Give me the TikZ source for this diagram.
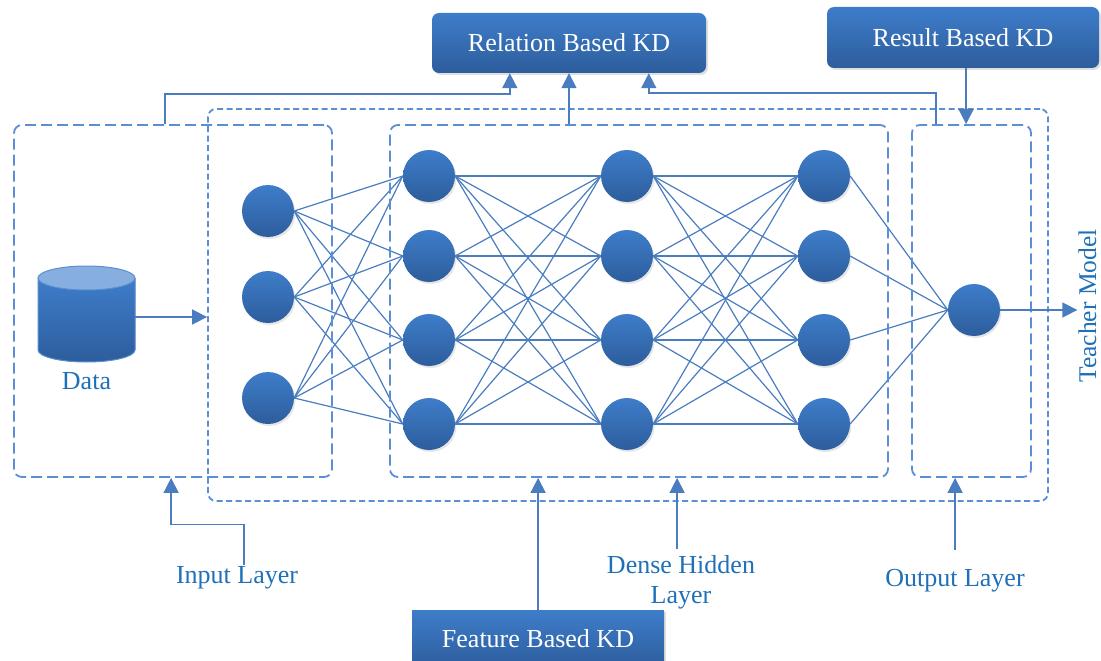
\documentclass[tikz,border=0pt]{standalone}
\usepackage{fontspec}
\setmainfont{Liberation Serif}
\usetikzlibrary{arrows.meta,shadows,backgrounds,calc}
\definecolor{nodetop}{HTML}{3E7DCA}
\definecolor{nodebot}{HTML}{2D5D9C}
\definecolor{dashc}{HTML}{5A8ED6}
\definecolor{linec}{HTML}{4A7DC0}
\definecolor{txtc}{HTML}{1F70B9}
\definecolor{cyltop}{HTML}{86AEDF}
\definecolor{cylline}{HTML}{5B8FD0}
\tikzset{
 neuron/.style={circle, inner sep=0pt, minimum size=52pt, top color=nodetop, bottom color=nodebot, draw=none,
   drop shadow={opacity=0.2, shadow xshift=1.5pt, shadow yshift=-2pt}},
 kdbox/.style={rounded corners=7pt, top color=nodetop, bottom color=nodebot, text=white, inner sep=0pt,
   font=\fontsize{26}{30}\selectfont, drop shadow={opacity=0.25, shadow xshift=2pt, shadow yshift=-2pt}},
 longdash/.style={draw=dashc, line width=1.8pt, dash pattern=on 11pt off 5pt, rounded corners=8pt, inner sep=0pt},
 shortdash/.style={draw=dashc, line width=1.8pt, dash pattern=on 6pt off 3.5pt, rounded corners=8pt, inner sep=0pt},
 conn/.style={draw=linec, line width=1.6pt, -{Triangle[length=15pt,width=15pt]}},
 nnedge/.style={draw=linec, line width=1.2pt},
 lbl/.style={text=txtc, font=\fontsize{26}{30}\selectfont, inner sep=1pt, align=center},
}
\begin{document}
\begin{tikzpicture}[x=1pt,y=-1pt]
\useasboundingbox (0,0) rectangle (1101,661);
% dashed boxes
\node[longdash, minimum width=318pt, minimum height=352pt] (databox) at (173,301) {};
\node[shortdash, minimum width=840pt, minimum height=392pt] (tbox) at (628,305) {};
\node[longdash, minimum width=498pt, minimum height=352pt] (hidbox) at (639,301) {};
\node[longdash, minimum width=119pt, minimum height=352pt] (outbox) at (971.5,301) {};
% neurons
\foreach \n/\y in {1/211,2/297,3/398} \node[neuron] (i\n) at (268,\y) {};
\foreach \n/\y in {1/176,2/256,3/340,4/424} {
  \node[neuron] (a\n) at (429,\y) {};
  \node[neuron] (b\n) at (627,\y) {};
  \node[neuron] (c\n) at (824,\y) {};
}
\node[neuron] (o) at (974,310) {};
\begin{scope}[on background layer]
\foreach \i in {1,2,3} \foreach \j in {1,...,4} \draw[nnedge] (i\i.east) -- (a\j.west);
\foreach \i in {1,...,4} \foreach \j in {1,...,4} {
  \draw[nnedge] (a\i.east) -- (b\j.west);
  \draw[nnedge] (b\i.east) -- (c\j.west);
}
\foreach \i in {1,...,4} \draw[nnedge] (c\i.east) -- (o.west);
\end{scope}
% data cylinder
\fill[top color=nodetop, bottom color=nodebot] (38,278) -- (38,350) arc[start angle=180, end angle=0, x radius=48.5, y radius=12] -- (135,278) -- cycle;
\draw[cylline, line width=1pt] (38,278) -- (38,350) arc[start angle=180, end angle=0, x radius=48.5, y radius=12] -- (135,278);
\filldraw[fill=cyltop, draw=cylline, line width=1pt] (86.5,278) ellipse[x radius=48.5, y radius=12];
\coordinate (dataR) at (135,317);
\node[lbl] (datalbl) at (86.5,381) {Data};
\draw[conn] (dataR) -- (dataR -| tbox.west);
% KD boxes
\node[kdbox, minimum width=274pt, minimum height=60pt] (rel) at (569,43) {Relation Based KD};
\node[kdbox, minimum width=272pt, minimum height=61pt] (res) at (963,37.5) {Result Based KD};
\node[kdbox, rounded corners=0pt, minimum width=252pt, minimum height=58pt] (feat) at (538,639) {Feature Based KD};
% top connectors
\coordinate (r1) at ($(rel.south west)+(78,0)$);
\coordinate (r3) at ($(rel.south west)+(217,0)$);
\coordinate (d1) at ($(databox.north west)+(152,0)$);
\coordinate (o1) at ($(outbox.north west)+(25,0)$);
\coordinate (o2) at ($(outbox.north west)+(55,0)$);
\draw[conn] (d1) -- ++(0,-30) -| (r1);
\draw[conn] (hidbox.north -| rel.south) -- (rel.south);
\draw[conn] (o1) -- ++(0,-31) -| (r3);
\draw[conn] (res.south -| o2) -- (o2);
% labels
\node[lbl] (inlbl) at (237,578) {Input Layer};
\node[lbl] (denlbl) at (681,582) {Dense Hidden\\Layer};
\node[lbl] (outlbl) at (955,581) {Output Layer};
\node[lbl, rotate=90, font=\fontsize{25.5}{30}\selectfont] (tm) at (1087.5,306) {Teacher Model};
% bottom connectors
\coordinate (il) at ($(databox.south west)+(158,0)$);
\coordinate (ilx) at ($(inlbl.north)+(7,0)$);
\coordinate (dh) at ($(hidbox.south west)+(288,0)$);
\coordinate (fb) at ($(hidbox.south west)+(149,0)$);
\coordinate (ol) at ($(outbox.south west)+(44,0)$);
\draw[conn] (ilx) -- ++(0,-41) -| (il);
\draw[conn] (feat.north -| fb) -- (fb);
\draw[conn, shorten <=5pt] (denlbl.north -| dh) -- (dh);
\draw[conn, shorten <=18pt] (outlbl.north -| ol) -- (ol);
\draw[conn] (o.east) -- (o.east -| tm.north);
\end{tikzpicture}
\end{document}
